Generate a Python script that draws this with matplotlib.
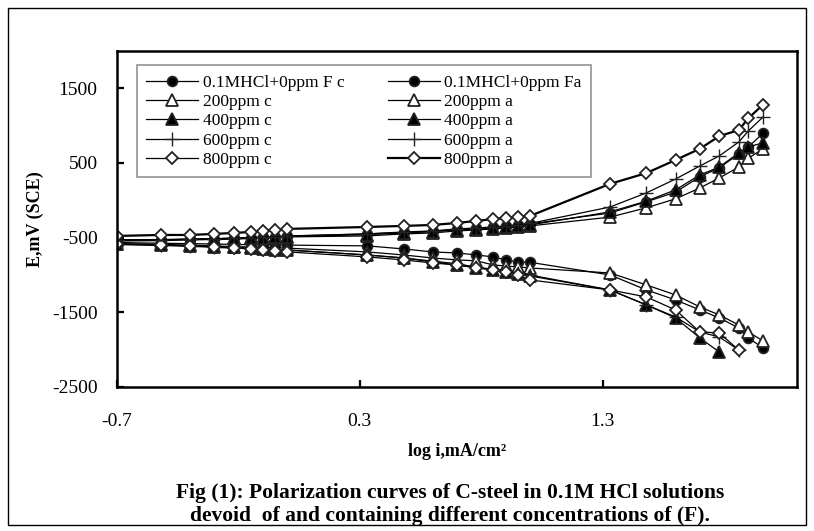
import numpy as np
import matplotlib
matplotlib.use("Agg")
import matplotlib.pyplot as plt
from matplotlib.patches import Rectangle

plt.rcParams['font.family'] = ['Liberation Serif', 'DejaVu Serif']
plt.rcParams['axes.unicode_minus'] = False

# log i (mA/cm2) values
x_full = [-0.7, -0.52, -0.4, -0.3, -0.22, -0.15, -0.1, -0.05, 0.0,
          0.33, 0.48, 0.6, 0.7, 0.78, 0.85, 0.9, 0.95, 1.0,
          1.33, 1.48, 1.6, 1.7, 1.78, 1.86, 1.9, 1.96]

# anodic branches, E in mV (SCE)
a_0ppm = [-531, -531, -517, -517, -504, -504, -491, -491, -477,
          -450, -424, -410, -383, -370, -357, -343, -330, -316,
          -170, -20, 110, 315, 435, 620, 715, 900]
a_200ppm = [-545, -540, -530, -525, -520, -510, -505, -500, -490,
            -477, -450, -437, -410, -397, -383, -370, -357, -343,
            -225, -100, 20, 165, 300, 445, 565, 690]
a_400ppm = [-535, -530, -525, -520, -510, -505, -500, -495, -485,
            -460, -437, -420, -397, -383, -370, -357, -343, -330,
            -155, -10, 140, 340, 445, 635, 715, 770]
a_600ppm = [-530, -525, -520, -515, -505, -500, -495, -490, -480,
            -450, -430, -415, -390, -375, -360, -345, -330, -310,
            -90, 100, 285, 460, 595, 780, 930, 1115]
a_800ppm = [-477, -464, -464, -450, -437, -424, -410, -397, -383,
            -357, -343, -330, -303, -276, -250, -236, -223, -210,
            220, 365, 540, 690, 860, 940, 1100, 1280]

# cathodic branches
c_0ppm = [-565, -575, -580, -585, -590, -595, -595, -600, -600,
          -610, -651, -691, -705, -732, -758, -798, -825, -830,
          -999, -1200, -1334, -1468, -1575, -1709, -1843, -1977]
c_200ppm = [-580, -590, -600, -610, -620, -625, -630, -635, -640,
            -691, -732, -772, -798, -810, -866, -879, -892, -906,
            -973, -1133, -1267, -1428, -1535, -1669, -1763, -1883]
c_400ppm = [-590, -600, -610, -620, -630, -640, -650, -660, -665,
            -732, -772, -825, -866, -906, -932, -959, -986, -1013,
            -1200, -1401, -1575, -1843, -2031]
c_600ppm = [-585, -595, -610, -620, -630, -640, -650, -655, -665,
            -732, -772, -815, -850, -895, -925, -950, -980, -1000,
            -1200, -1401, -1562, -1763, -1830, -2004]
c_800ppm = [-590, -605, -615, -630, -640, -650, -665, -675, -690,
            -758, -798, -839, -866, -900, -932, -960, -1000, -1066,
            -1200, -1294, -1468, -1763, -1776, -2004]

labels_c = ['0.1MHCl+0ppm F c', '200ppm c', '400ppm c', '600ppm c', '800ppm c']
labels_a = ['0.1MHCl+0ppm Fa', '200ppm a', '400ppm a', '600ppm a', '800ppm a']

styles = [dict(marker='o', mfc='black', ms=7),
          dict(marker='^', mfc='white', ms=8),
          dict(marker='^', mfc='black', ms=8),
          dict(marker='+', mfc='black', ms=10, mew=1.0),
          dict(marker='D', mfc='white', ms=6)]

cath = [c_0ppm, c_200ppm, c_400ppm, c_600ppm, c_800ppm]
anod = [a_0ppm, a_200ppm, a_400ppm, a_600ppm, a_800ppm]

fig = plt.figure(figsize=(8.14, 5.31), dpi=100)
ax = fig.add_axes([0.1437, 0.2712, 0.8354, 0.6328])

handles_c = []
handles_a = []
for i in range(5):
    st = styles[i]
    mew = st.get('mew', 1.3)
    yc = cath[i]
    hc, = ax.plot(x_full[:len(yc)], yc, color='black', lw=0.9, marker=st['marker'],
                  mfc=st['mfc'], mec='#222222', ms=st['ms'], mew=mew, label=labels_c[i])
    lw_a = 1.6 if i == 4 else 0.9
    ha, = ax.plot(x_full, anod[i], color='black', lw=lw_a, marker=st['marker'],
                  mfc=st['mfc'], mec='#222222', ms=st['ms'], mew=mew, label=labels_a[i])
    handles_c.append(hc)
    handles_a.append(ha)

ax.set_xlim(-0.7, 2.1)
ax.set_ylim(-2500, 2000)
ax.set_xticks([-0.7, 0.3, 1.3])
ax.set_xticklabels(['-0.7', '0.3', '1.3'])
ax.set_yticks([-2500, -1500, -500, 500, 1500])
ax.tick_params(direction='in', length=5, width=1.6, labelsize=14)
ax.tick_params(axis='x', pad=19)
ax.tick_params(axis='y', pad=14)
for s in ax.spines.values():
    s.set_linewidth(1.8)
    s.set_color('black')

ax.set_xlabel('log i,mA/cm²', fontsize=13, fontweight='bold', labelpad=9)
ax.set_ylabel('E,mV (SCE)', fontsize=13, fontweight='bold', labelpad=6)

leg = ax.legend(handles_c + handles_a, labels_c + labels_a, ncol=2,
                loc='upper left', bbox_to_anchor=(0.029, 0.958), borderaxespad=0,
                fontsize=12.5, handlelength=3.0, handletextpad=0.25,
                columnspacing=2.5, labelspacing=0.18, borderpad=0.55,
                frameon=True, fancybox=False, edgecolor='#777777')
leg.get_frame().set_linewidth(1.2)

fig.text(0.553, 0.071, 'Fig (1): Polarization curves of C-steel in 0.1M HCl solutions',
         ha='center', va='center', fontsize=15.5, fontweight='bold')
fig.text(0.553, 0.028, 'devoid  of and containing different concentrations of (F).',
         ha='center', va='center', fontsize=15.5, fontweight='bold')

fig.patches.append(Rectangle((8 / 814, 6 / 531), 798 / 814, 517 / 531,
                             transform=fig.transFigure, fill=False,
                             edgecolor='black', linewidth=1.0))

fig.savefig('out.png', dpi=100)
